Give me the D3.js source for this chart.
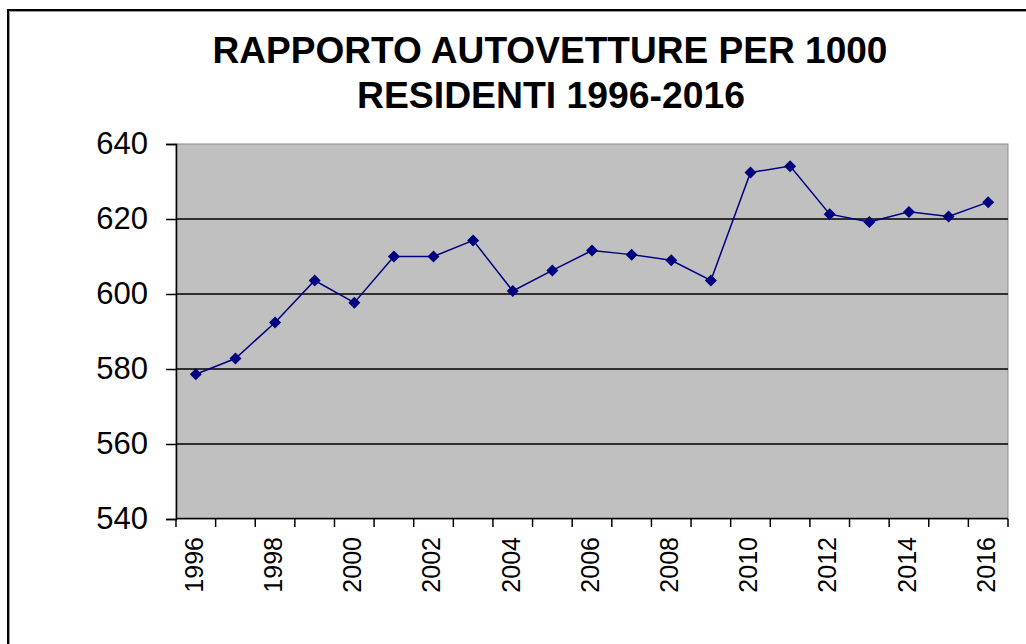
<!DOCTYPE html>
<html>
<head>
<meta charset="utf-8">
<script src="https://cdnjs.cloudflare.com/ajax/libs/d3/7.8.5/d3.min.js"></script>
<style>
	html, body { margin: 0; padding: 0; background: #fff; overflow: hidden; }
	svg { display: block; font-family: "Liberation Sans", Arial, sans-serif; }
</style>
</head>
<body>
<svg id="chart"></svg>
<script>
/*************** data *****************/
var years = ["1996","1997","1998","1999","2000","2001","2002","2003","2004","2005","2006",
	"2007","2008","2009","2010","2011","2012","2013","2014","2015","2016"];
var values = [578.6, 582.8, 592.4, 603.6, 597.7, 610.0, 610.0, 614.3, 600.8, 606.3, 611.6,
	610.5, 609.0, 603.6, 632.4, 634.1, 621.3, 619.2, 621.9, 620.7, 624.5];
var yTicks = [540, 560, 580, 600, 620, 640];
var titleLines = ["RAPPORTO AUTOVETTURE PER 1000", "RESIDENTI 1996-2016"];

/*************** settings *****************/
var width = 1026,
	height = 644,
	plot = {left: 176, right: 1008, top: 144, bottom: 519},
	lineColor = "#000080";

var svg = d3.select("#chart")
	.attr("width", width)
	.attr("height", height);

// outer frame (runs off the right and bottom edges)
svg.append("rect")
	.attr("x", 8).attr("y", 10)
	.attr("width", 1200).attr("height", 800)
	.attr("fill", "none")
	.attr("stroke", "#000")
	.attr("stroke-width", 2);
svg.append("path")
	.attr("d", "M9.5,800V11.5H1200")
	.attr("fill", "none")
	.attr("stroke", "#9a9a9a")
	.attr("stroke-width", 1);

/*************** title *****************/
svg.append("text")
	.attr("x", 550).attr("y", 63)
	.attr("text-anchor", "middle")
	.attr("font-size", 36).attr("font-weight", "bold")
	.attr("textLength", 675).attr("lengthAdjust", "spacingAndGlyphs")
	.text(titleLines[0]);
svg.append("text")
	.attr("x", 551).attr("y", 108)
	.attr("text-anchor", "middle")
	.attr("font-size", 36).attr("font-weight", "bold")
	.attr("textLength", 388).attr("lengthAdjust", "spacingAndGlyphs")
	.text(titleLines[1]);

/*************** scales *****************/
var x = d3.scaleBand()
	.domain(years)
	.range([plot.left, plot.right]);

var y = d3.scaleLinear()
	.domain([540, 640])
	.range([plot.bottom, plot.top]);

/*************** plot area *****************/
svg.append("rect")
	.attr("x", plot.left).attr("y", plot.top)
	.attr("width", plot.right - plot.left)
	.attr("height", plot.bottom - plot.top)
	.attr("fill", "#c0c0c0")
	.attr("stroke", "#8c8c8c")
	.attr("stroke-width", 1);

// gridlines
svg.append("g")
	.selectAll("line")
	.data(yTicks.filter(function(d) { return d > 540 && d < 640; }))
	.enter().append("line")
		.attr("x1", plot.left).attr("x2", plot.right)
		.attr("y1", function(d) { return y(d); })
		.attr("y2", function(d) { return y(d); })
		.attr("stroke", "#000")
		.attr("stroke-width", 1.5);

/*************** axes *****************/
var yAxis = svg.append("g")
	.attr("transform", "translate(" + plot.left + ",0)")
	.call(d3.axisLeft(y).tickValues(yTicks).tickSize(10).tickPadding(18).tickFormat(d3.format("d")));
yAxis.select(".domain").attr("stroke", "#000").attr("stroke-width", 1.5);
yAxis.selectAll(".tick line").attr("stroke", "#000").attr("stroke-width", 1.5);
yAxis.selectAll(".tick text")
	.attr("font-size", 31)
	.attr("font-family", "Liberation Sans, Arial, sans-serif")
	.attr("fill", "#000");

// x axis line + ticks at category boundaries
var xAxis = svg.append("g")
	.attr("transform", "translate(0," + plot.bottom + ")");
xAxis.append("line")
	.attr("x1", plot.left).attr("x2", plot.right)
	.attr("y1", -0.5).attr("y2", -0.5)
	.attr("stroke", "#000").attr("stroke-width", 1.5);
xAxis.selectAll("line.tk")
	.data(years.map(function(d) { return x(d); }).concat([plot.right]))
	.enter().append("line")
		.attr("class", "tk")
		.attr("x1", function(d) { return d; })
		.attr("x2", function(d) { return d; })
		.attr("y1", 0).attr("y2", 8)
		.attr("stroke", "#000").attr("stroke-width", 1.5);

// labels every other year, rotated
xAxis.selectAll("text")
	.data(years.filter(function(d, i) { return i % 2 === 0; }))
	.enter().append("text")
		.attr("transform", function(d) {
			return "translate(" + (x(d) + x.bandwidth() / 2 - 2) + ",18) rotate(-90)";
		})
		.attr("text-anchor", "end")
		.attr("dy", "0.35em")
		.attr("font-size", 25)
		.text(function(d) { return d; });

/*************** series *****************/
var line = d3.line()
	.x(function(d, i) { return x(years[i]) + x.bandwidth() / 2; })
	.y(function(d) { return y(d); });

svg.append("path")
	.datum(values)
	.attr("d", line)
	.attr("fill", "none")
	.attr("stroke", lineColor)
	.attr("stroke-width", 1.5);

svg.append("g")
	.selectAll("path")
	.data(values)
	.enter().append("path")
		.attr("transform", function(d, i) {
			return "translate(" + (x(years[i]) + x.bandwidth() / 2) + "," + y(d) + ")";
		})
		.attr("d", "M0,-6L6,0L0,6L-6,0Z")
		.attr("fill", lineColor);
</script>
</body>
</html>
